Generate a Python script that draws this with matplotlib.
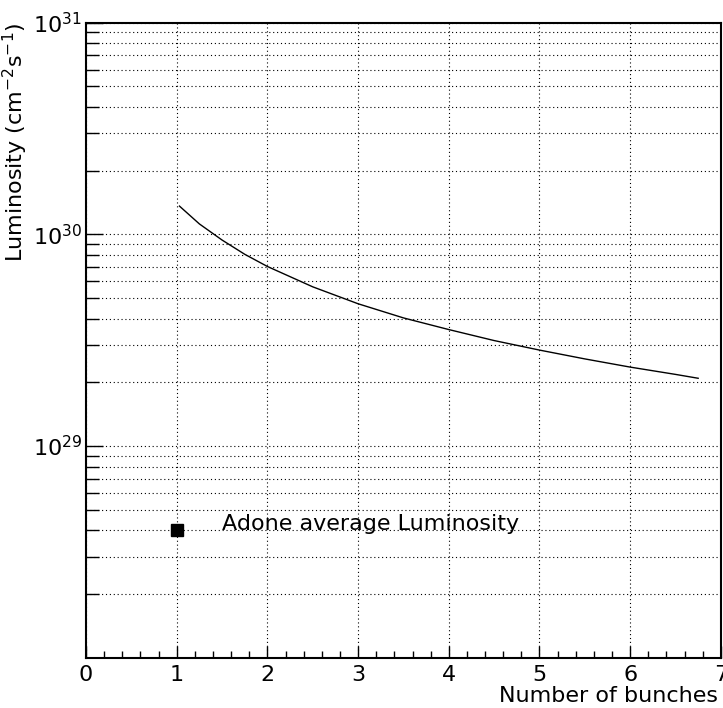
import numpy as np
import matplotlib
matplotlib.use("Agg")
import matplotlib.pyplot as plt
from matplotlib.ticker import FixedLocator, LogLocator, MultipleLocator, FuncFormatter, NullFormatter

plt.rcParams['font.family'] = ['DejaVu Sans']
plt.rcParams['mathtext.default'] = 'regular'

# curve: luminosity vs number of bunches
n_bunches = [1.03, 1.25, 1.5, 1.75, 2.0, 2.5, 3.0, 3.5, 4.0, 4.5, 5.0, 5.5, 6.0, 6.5, 6.75]
luminosity = [1.36e30, 1.12e30, 9.4e29, 8.05e29, 7.05e29, 5.65e29, 4.7e29, 4.03e29,
              3.55e29, 3.15e29, 2.84e29, 2.58e29, 2.36e29, 2.18e29, 2.09e29]

# Adone measured point
adone_n = [1]
adone_lumi = [4e28]
adone_text = "Adone average Luminosity"

fs = 16

fig = plt.figure(figsize=(7.23, 7.08), dpi=100)
ax = fig.add_axes([0.119, 0.071, 0.878, 0.897])

ax.plot(n_bunches, luminosity, color='black', lw=1.0)
ax.plot(adone_n, adone_lumi, 's', color='black', ms=8.5)
ax.text(1.5, adone_lumi[0], adone_text, fontsize=fs, va='baseline', ha='left')

ax.set_yscale('log')
ax.set_xlim(0, 7)
ax.set_ylim(1e28, 1e31)

ax.xaxis.set_major_locator(MultipleLocator(1))
ax.xaxis.set_minor_locator(MultipleLocator(0.2))
ax.yaxis.set_major_locator(FixedLocator([1e29, 1e30, 1e31]))
ax.yaxis.set_minor_locator(LogLocator(base=10, subs=np.arange(2, 10)))
ax.yaxis.set_major_formatter(FuncFormatter(lambda v, p: "10$^{%d}$" % round(np.log10(v))))
ax.yaxis.set_minor_formatter(NullFormatter())

ax.tick_params(axis='both', which='both', direction='in', top=False, right=False,
               color='black', width=1.0)
ax.tick_params(axis='x', which='major', length=9, labelsize=fs, pad=5)
ax.tick_params(axis='x', which='minor', length=5)
ax.tick_params(axis='y', which='major', length=12, labelsize=fs, pad=3)
ax.tick_params(axis='y', which='minor', length=9)

dots = (0, (1, 2.5))
ax.grid(True, which='major', axis='x', color='black', ls=dots, lw=0.8)
ax.grid(True, which='both', axis='y', color='black', ls=dots, lw=0.8)

for s in ax.spines.values():
    s.set_linewidth(1.5)

ax.set_xlabel("Number of bunches", loc='right', fontsize=fs, labelpad=1)
ax.xaxis.label.set_x(0.995)
ax.set_ylabel("Luminosity (cm$^{-2}$s$^{-1}$)", loc='top', fontsize=fs, labelpad=2)

fig.savefig("out.png", dpi=100)
